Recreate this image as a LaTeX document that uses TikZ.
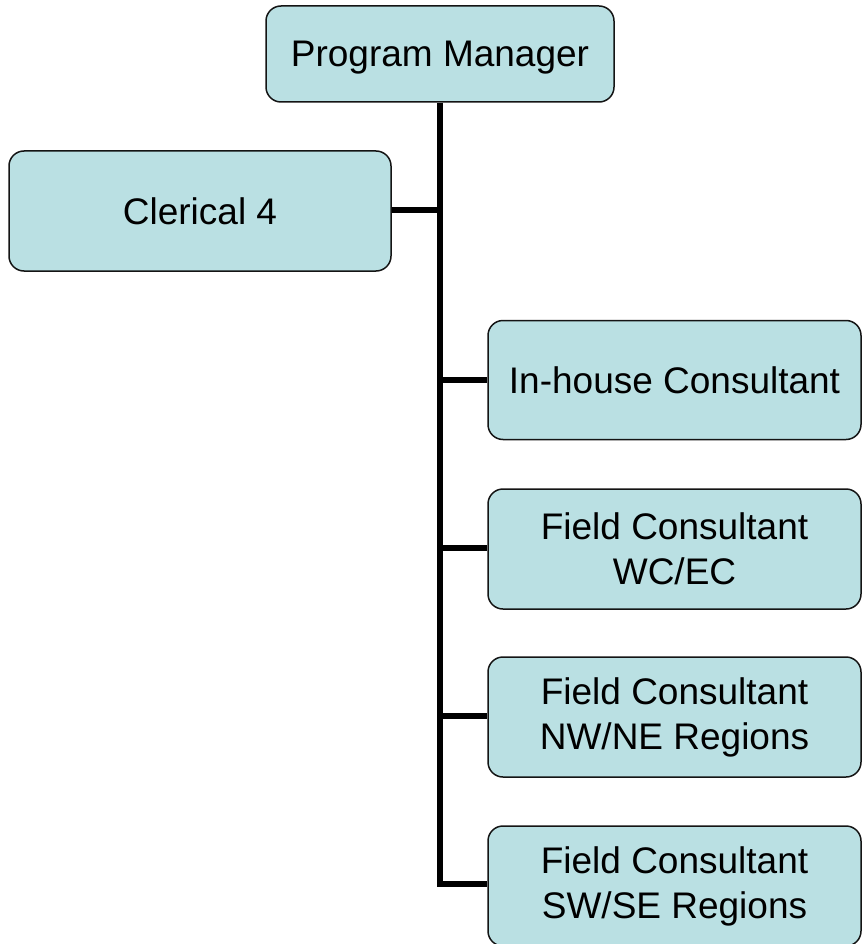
\documentclass[tikz,border=0pt]{standalone}
\usepackage{fontspec}
\setmainfont{Liberation Sans}
\definecolor{boxfill}{RGB}{186,224,227}
\definecolor{boxline}{RGB}{20,20,20}
\begin{document}
\begin{tikzpicture}[x=1pt,y=-1pt,
  orgbox/.style={draw=boxline,line width=1.5pt,fill=boxfill,rounded corners=15pt,
    inner sep=0pt,align=center,font=\fontsize{37}{45}\selectfont},
  link/.style={line width=6pt,draw=black}]
\useasboundingbox (0,0) rectangle (862,944);
\node[orgbox,minimum width=348pt,minimum height=96pt,text height=30pt,text depth=4pt] (pm) at (440,54) {Program Manager};
\node[orgbox,minimum width=382pt,minimum height=120pt] (cl) at (200,211) {Clerical 4};
\node[orgbox,minimum width=373pt,minimum height=119pt] (ih) at (674.5,380) {In-house Consultant};
\node[orgbox,minimum width=373pt,minimum height=120pt] (wc) at (674.5,549) {Field Consultant\\WC/EC};
\node[orgbox,minimum width=373pt,minimum height=120pt] (nw) at (674.5,717) {Field Consultant\\NW/NE Regions};
\node[orgbox,minimum width=373pt,minimum height=120pt] (sw) at (674.5,886) {Field Consultant\\SW/SE Regions};
\coordinate (tc) at (440,210);
\coordinate (ti) at (440,380);
\coordinate (tw) at (440,548);
\coordinate (tn) at (440,716);
\coordinate (ts) at (440,884);
\draw[link] (pm.south) -- (ts) -- (ts -| sw.west);
\draw[link] (tc) -- (tc -| cl.east);
\draw[link] (ti) -- (ti -| ih.west);
\draw[link] (tw) -- (tw -| wc.west);
\draw[link] (tn) -- (tn -| nw.west);
\end{tikzpicture}
\end{document}
